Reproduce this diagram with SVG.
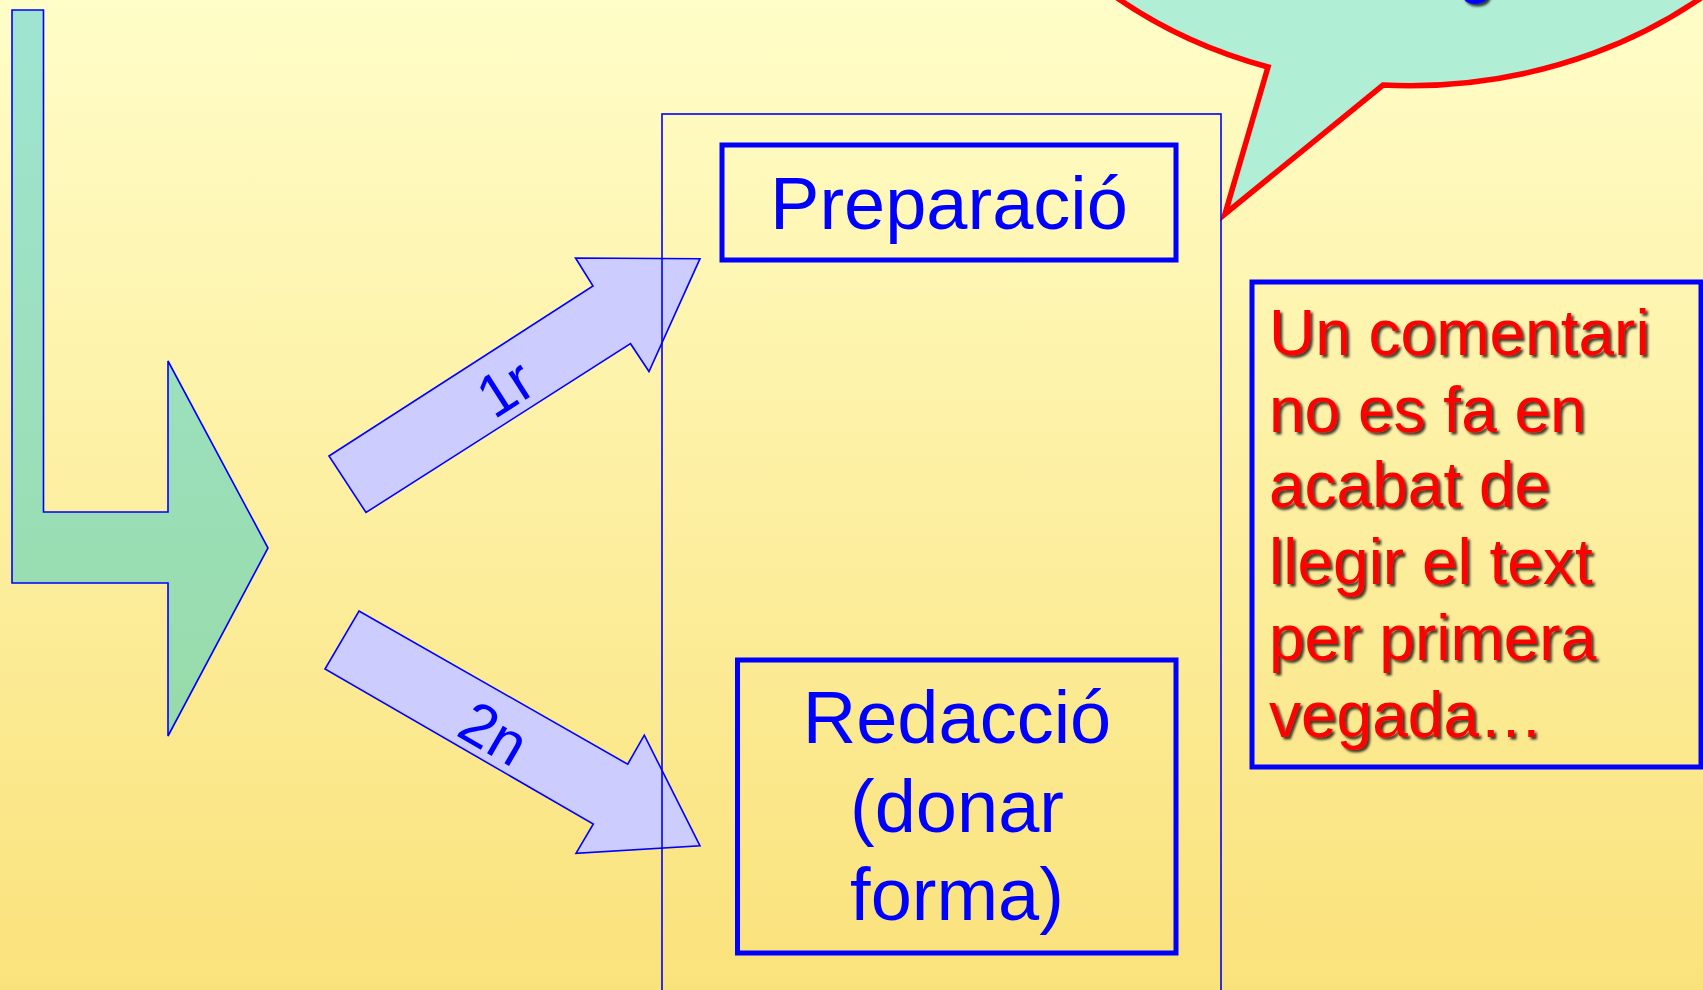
<svg xmlns="http://www.w3.org/2000/svg" width="1703" height="990" viewBox="0 0 1703 990">
<defs>
<linearGradient id="bg" x1="0" y1="0" x2="0" y2="1">
<stop offset="0" stop-color="#fffdc8"/>
<stop offset="1" stop-color="#fae27b"/>
</linearGradient>
<linearGradient id="lg" x1="0" y1="0" x2="0" y2="1">
<stop offset="0" stop-color="#9fe4d2"/>
<stop offset="1" stop-color="#98dba9"/>
</linearGradient>
<filter id="sh" x="-10%" y="-10%" width="130%" height="140%">
<feDropShadow dx="2.5" dy="2.5" stdDeviation="1.2" flood-color="#000" flood-opacity="0.75"/>
</filter>
<style>
.blk{fill:#ccccff;stroke:#0000ff;stroke-width:1.6;stroke-linejoin:miter}
.box{fill:none;stroke:#0000ff;stroke-width:5}
.t{font-family:"Liberation Sans",Arial,sans-serif;fill:#0000ff}
.big{font-size:74px;text-anchor:middle}
.lab{font-size:60px;text-anchor:middle}
.red{font-family:"Liberation Sans",Arial,sans-serif;font-size:64px;fill:#ff0000;filter:url(#sh)}
</style>
</defs>
<rect x="0" y="0" width="1703" height="990" fill="url(#bg)"/>

<g id="bubble">
<path d="M1268,67 L1225,214 L1383,85 A461 388 0 1 0 1268 67 Z" fill="#b0eed6" stroke="#ff0000" stroke-width="5.5" stroke-linejoin="miter"/>
<text x="1458" y="-9" class="t" font-size="64" filter="url(#sh)">g</text>
</g>

<g id="connectors">
<polygon id="bentArrow" points="12,10 43.5,10 43.5,512 168,512 168,361 268,548 168,736 168,583 12,583" fill="url(#lg)" stroke="#0000ff" stroke-width="1.6"/>
<g id="arrow1r">
<polygon class="blk" points="329,456 593,286 575.5,258 700,258.7 649,371.5 630.5,343.7 366,512.5"/>
<text class="t lab" transform="translate(505,388) rotate(-32.7)" y="21">1r</text>
</g>
<g id="arrow2n">
<polygon class="blk" points="359,611 627.7,764.2 644.3,735.2 700,845.8 576,853.4 593.3,824 325,669"/>
<text class="t lab" transform="translate(494,733) rotate(30)" y="21">2n</text>
</g>
</g>

<g id="process">
<rect x="662" y="114" width="559" height="890" fill="none" stroke="#0000ff" stroke-width="1.6"/>
</g>

<g id="preparacio">
<rect class="box" x="722" y="145" width="454" height="115"/>
<text class="t big" x="949" y="229">Preparació</text>
</g>

<g id="redaccio">
<rect class="box" x="737.5" y="660" width="438.5" height="293"/>
<text class="t big" x="957" y="743">Redacció</text>
<text class="t big" x="957" y="832">(donar</text>
<text class="t big" x="957" y="920">forma)</text>
</g>

<g id="comment">
<rect x="1252" y="282" width="449" height="485" fill="none" stroke="#0000ff" stroke-width="5"/>
<text class="red" x="1269" y="355">Un comentari</text>
<text class="red" x="1269" y="432">no es fa en</text>
<text class="red" x="1269" y="507">acabat de</text>
<text class="red" x="1269" y="584">llegir el text</text>
<text class="red" x="1269" y="660">per primera</text>
<text class="red" x="1269" y="737">vegada…</text>
</g>
</svg>
